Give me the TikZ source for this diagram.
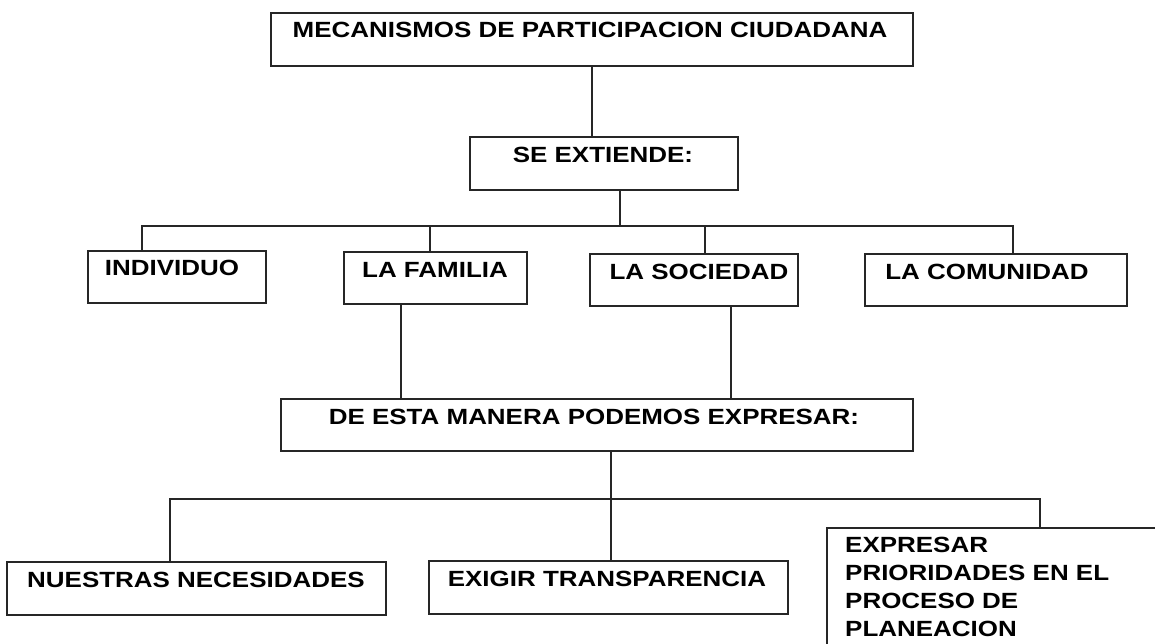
\documentclass[tikz,border=0pt]{standalone}
\usepackage{fontspec}
\newfontfamily\arb{Liberation Sans}[FakeStretch=1.18]
\begin{document}
\begin{tikzpicture}[x=1pt,y=-1pt,
  bx/.style={draw=black!85, line width=1.4pt, inner sep=0pt, outer sep=0pt, anchor=north west},
  tx/.style={font=\arb\bfseries\fontsize{22}{27.7}\selectfont, text=black, inner sep=0pt, anchor=base},
  ln/.style={draw=black!85, line width=1.3pt}]
\clip (0,0) rectangle (1155,643);
\fill[white] (0,0) rectangle (1155,643);
% boxes
\node[bx, minimum width=642, minimum height=53] (tit) at (271,13) {};
\node[bx, minimum width=268, minimum height=53] (se) at (470,137) {};
\node[bx, minimum width=178, minimum height=52] (ind) at (88,251) {};
\node[bx, minimum width=183, minimum height=52] (fam) at (344,252) {};
\node[bx, minimum width=208, minimum height=52] (soc) at (590,254) {};
\node[bx, minimum width=262, minimum height=52] (com) at (865,254) {};
\node[bx, minimum width=632, minimum height=52] (dem) at (281,399) {};
\node[bx, minimum width=379, minimum height=53] (nue) at (7,562) {};
\node[bx, minimum width=359, minimum height=53] (exi) at (429,561) {};
\node[bx, minimum width=400, minimum height=200] (exp) at (827,528) {};
% texts
\node[tx] (titt) at (590,37) {MECANISMOS DE PARTICIPACION CIUDADANA};
\node[tx] (set) at (603,162) {SE EXTIENDE:};
\node[tx] (indt) at (172,275) {INDIVIDUO};
\node[tx] (famt) at (435,277) {LA FAMILIA};
\node[tx] (soct) at (699,279) {LA SOCIEDAD};
\node[tx] (comt) at (987,279) {LA COMUNIDAD};
\node[tx] (demt) at (594,424) {DE ESTA MANERA PODEMOS EXPRESAR:};
\node[tx, anchor=base west] (nuet) at (27,587) {NUESTRAS NECESIDADES};
\node[tx] (exit) at (607,586) {EXIGIR TRANSPARENCIA};
\node[tx, anchor=base west, align=left] (expt) at (845,636) {EXPRESAR\\PRIORIDADES EN EL\\PROCESO DE\\PLANEACION};
% connector coordinates
\coordinate (a1) at (592,0);
\coordinate (b1) at (620,226);
\coordinate (x1) at (142,226);
\coordinate (x2) at (430,226);
\coordinate (x3) at (705,226);
\coordinate (x4) at (1013,226);
\coordinate (d1) at (401,0);
\coordinate (d2) at (731,0);
\coordinate (b2) at (611,499);
\coordinate (y1) at (170,499);
\coordinate (y3) at (1040,499);
% connectors
\draw[ln] (tit.south -| a1) -- (se.north -| a1);
\draw[ln] (se.south -| b1) -- (b1);
\draw[ln] (ind.north -| x1) -- (x1) -- (x4) -- (com.north -| x4);
\draw[ln] (fam.north -| x2) -- (x2);
\draw[ln] (soc.north -| x3) -- (x3);
\draw[ln] (fam.south -| d1) -- (dem.north -| d1);
\draw[ln] (soc.south -| d2) -- (dem.north -| d2);
\draw[ln] (dem.south -| b2) -- (exi.north -| b2);
\draw[ln] (nue.north -| y1) -- (y1) -- (y3) -- (exp.north -| y3);
\end{tikzpicture}
\end{document}
